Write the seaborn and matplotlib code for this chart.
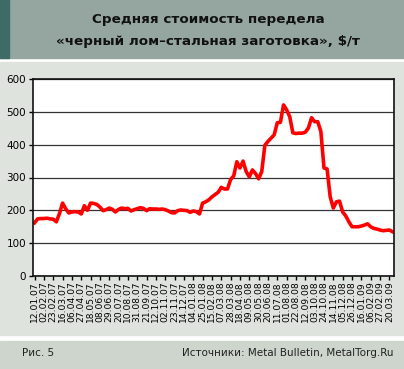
import matplotlib.pyplot as plt
import seaborn as sns
from matplotlib.patches import Rectangle

# weekly average, $/t, from 12.01.07
values = [162, 174, 175, 175, 176, 174, 173, 165, 190, 222,
          205, 192, 195, 196, 195, 189, 214, 200, 222, 221,
          218, 210, 199, 202, 207, 203, 195, 203, 207, 205,
          206, 198, 202, 205, 208, 206, 199, 205, 204, 204,
          203, 204, 202, 198, 193, 192, 199, 201, 200, 199,
          194, 198, 196, 189, 222, 226, 232, 241, 248, 255,
          270, 265, 265, 294, 305, 348, 329, 350, 318, 302,
          323, 312, 296, 318, 398, 410, 420, 430, 467, 468,
          521, 506, 485, 436, 434, 435, 435, 438, 451, 482,
          470, 470, 440, 329, 326, 241, 207, 226, 228, 195,
          183, 165, 150, 150, 150, 152, 155, 159, 150, 145,
          143, 140, 138, 139, 140, 135]

tick_labels = ['12.01.07', '02.02.07', '23.02.07', '16.03.07', '06.04.07', '27.04.07',
               '18.05.07', '08.06.07', '29.06.07', '20.07.07', '10.08.07', '31.08.07',
               '21.09.07', '12.10.07', '02.11.07', '23.11.07', '14.12.07', '04.01.08',
               '25.01.08', '15.02.08', '07.03.08', '28.03.08', '18.04.08', '09.05.08',
               '30.05.08', '20.06.08', '11.07.08', '01.08.08', '22.08.08', '12.09.08',
               '03.10.08', '24.10.08', '14.11.08', '05.12.08', '26.12.08', '16.01.09',
               '06.02.09', '27.02.09', '20.03.09']
y_ticks = [0, 100, 200, 300, 400, 500, 600]

plt.rcParams['font.family'] = ['DejaVu Sans']

fig = plt.figure(figsize=(4.04, 3.69), dpi=100)
fig.patch.set_facecolor('white')

# background panels
fig.add_artist(Rectangle((0, 1 - 58/369), 1, 58/369, transform=fig.transFigure,
                         color='#95a6a1', zorder=0))
fig.add_artist(Rectangle((0, 1 - 58/369), 9/404, 58/369, transform=fig.transFigure,
                         color='#3e6b68', zorder=0))
fig.add_artist(Rectangle((0, 1 - 335/369), 1, 273/369, transform=fig.transFigure,
                         color='#dfe3de', zorder=0))
fig.add_artist(Rectangle((0, 0), 1, 28/369, transform=fig.transFigure,
                         color='#cdd5cd', zorder=0))

fig.text(0.515, 1 - 20/369, 'Средняя стоимость передела', ha='center', va='center',
         fontsize=9.7, fontweight='bold', color='#111111')
fig.text(0.515, 1 - 41/369, '«черный лом–стальная заготовка», $/т', ha='center', va='center',
         fontsize=9.7, fontweight='bold', color='#111111')

fig.text(22/404, 1 - 353/369, 'Рис. 5', ha='left', va='center', fontsize=7.5, color='#222222')
fig.text(393/404, 1 - 353/369, 'Источники: Metal Bulletin, MetalTorg.Ru', ha='right',
         va='center', fontsize=7.5, color='#222222')

ax = fig.add_axes([33/404, 1 - 276/369, 361/404, 197/369])
ax.set_facecolor('white')
x = list(range(len(values)))
sns.lineplot(x=x, y=values, ax=ax, color='#ff0000', linewidth=2.6)

ax.set_xlim(-0.5, len(values) - 0.5)
ax.set_ylim(0, 600)
ax.set_yticks(y_ticks)
ax.set_xticks(list(range(0, 3 * len(tick_labels), 3)))
ax.set_xticklabels(tick_labels, rotation=90, fontsize=6.6)
ax.tick_params(axis='y', labelsize=7.5, length=3, width=1, direction='out', pad=2)
ax.tick_params(axis='x', length=3, width=1, direction='out', pad=1)
ax.grid(axis='y', color='#333333', linewidth=0.9)
ax.set_axisbelow(True)
for s in ax.spines.values():
    s.set_color('#111111')
    s.set_linewidth(1.2)
ax.set_xlabel('')
ax.set_ylabel('')

fig.savefig('out.png', dpi=100)
